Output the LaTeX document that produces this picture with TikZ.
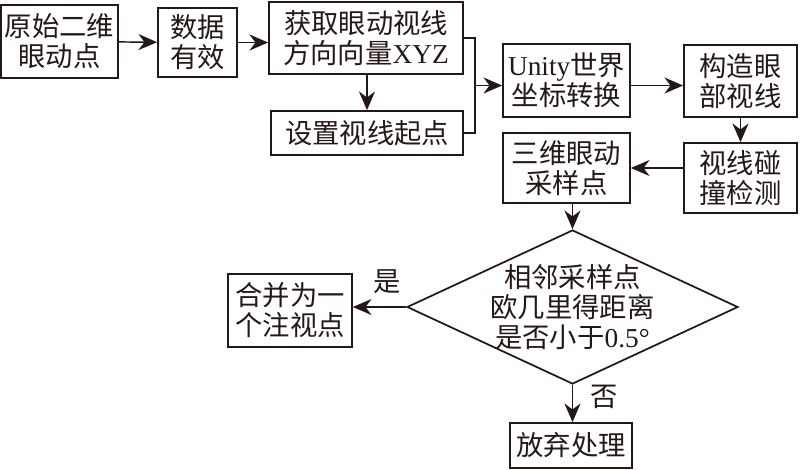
\documentclass[tikz,border=0pt]{standalone}
\usepackage{fontspec}
\setmainfont{Liberation Serif}
\newfontfamily\cjk{Noto Sans CJK SC}
\usepackage{xcolor}
\usepackage{tikz}
\usetikzlibrary{arrows.meta,shapes.geometric}
\definecolor{heise}{RGB}{35,24,21}

\begin{document}
\begin{tikzpicture}[x=0.75pt,y=0.75pt,yscale=-1,xscale=1,
  every node/.style={text=heise},
  kuang/.style={draw=heise, line width=1.3pt, align=center, inner sep=0pt,
    font=\cjk\fontsize{20.5}{22.5}\selectfont},
  lingxing/.style={draw=heise, diamond, line width=1.3pt, inner sep=0pt},
  wenzi/.style={align=center, inner sep=0pt, font=\cjk\fontsize{20.5}{22.5}\selectfont},
  jiantou/.style={draw=heise, -{Stealth[length=14pt,width=12pt,inset=4.5pt]}, line width=1.1pt},
  xian/.style={draw=heise, line width=1.1pt}]
\useasboundingbox (0,0) rectangle (800,469);

%Shape: Rectangle
\node [kuang, minimum width=87.75pt, minimum height=54.75pt] (yuanshi) at (59.5,41.5) {原始二维\\眼动点};
%Shape: Rectangle
\node [kuang, minimum width=59.25pt, minimum height=51.75pt] (youxiao) at (197.5,42.5) {数据\\有效};
%Shape: Rectangle
\node [kuang, minimum width=145.5pt, minimum height=54pt] (fangxiang) at (366,38) {获取眼动视线\\方向向量{\rmfamily XYZ}};
%Shape: Rectangle
\node [kuang, minimum width=144pt, minimum height=33pt] (qidian) at (367,133) {设置视线起点};
%Shape: Rectangle
\node [kuang, minimum width=95.25pt, minimum height=54.75pt] (zuobiao) at (566.5,80.5) {{\rmfamily Unity}世界\\坐标转换};
%Shape: Rectangle
\node [kuang, minimum width=84.75pt, minimum height=54pt] (shixian) at (740.5,81) {构造眼\\部视线};
%Shape: Rectangle
\node [kuang, minimum width=84.75pt, minimum height=52.5pt] (pengzhuang) at (740.5,178) {视线碰\\撞检测};
%Shape: Rectangle
\node [kuang, minimum width=95.25pt, minimum height=52.5pt] (caiyang) at (566.5,168) {三维眼动\\采样点};
%Shape: Diamond
\node [lingxing, minimum width=248.25pt, minimum height=115.5pt] (panduan) at (572.5,307) {};
% Text Node
\node [wenzi] (panduanwz) at (panduan.center) {相邻采样点\\欧几里得距离\\是否小于{\rmfamily 0.5°}};
%Shape: Rectangle
\node [kuang, minimum width=93pt, minimum height=54.75pt] (hebing) at (290,310.5) {合并为一\\个注视点};
%Shape: Rectangle
\node [kuang, minimum width=91.5pt, minimum height=33.75pt] (fangqi) at (571,445.5) {放弃处理};

%Straight Lines
\coordinate (huiju) at (475,85.5);
\draw [jiantou] (yuanshi) -- (youxiao);
\draw [jiantou] (youxiao) -- (youxiao -| fangxiang.west);
\draw [jiantou] (fangxiang.south -| qidian) -- (qidian);
\draw [xian] (fangxiang.east) -| (huiju) |- (qidian.east);
\draw [jiantou] (huiju) -- (huiju -| zuobiao.west);
\draw [jiantou] (zuobiao.east |- huiju) -- (shixian.west |- huiju);
\draw [jiantou] (shixian.south) -- (pengzhuang.north);
\draw [jiantou] (pengzhuang.west |- caiyang) -- (caiyang.east);
\draw [jiantou] (caiyang.south -| panduan.north) -- (panduan.north);
\draw [jiantou] (panduan.west) -- (panduan.west -| hebing.east);
\draw [jiantou] (panduan.south) -- (panduan.south |- fangqi.north);

% Text Node
\node [wenzi] (shi) at (387,282) {是};
% Text Node
\node [wenzi] (fou) at (604,397) {否};

\end{tikzpicture}
\end{document}
